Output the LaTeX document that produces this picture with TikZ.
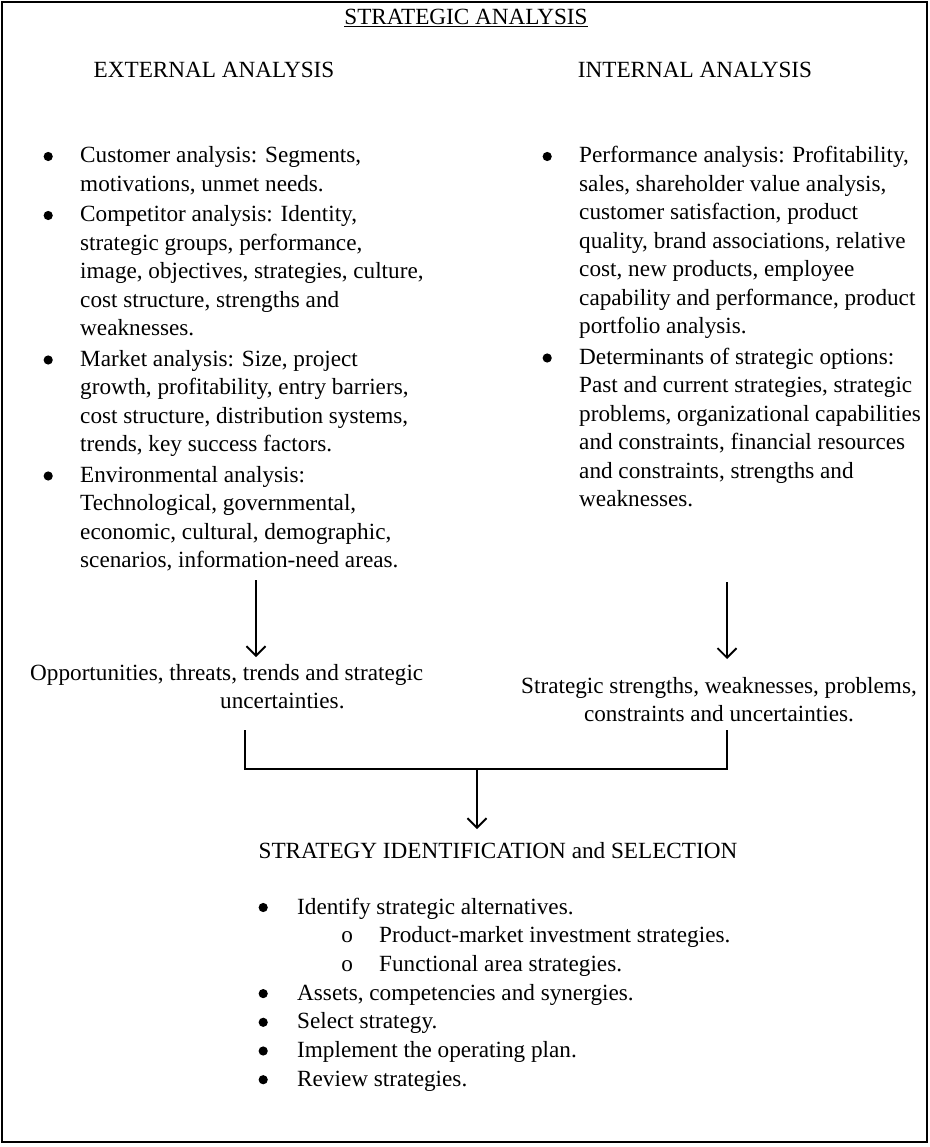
\documentclass[tikz,border=0pt]{standalone}
\usepackage{fontspec}
\setmainfont{Liberation Serif}
\usetikzlibrary{arrows.meta}

% list helpers: #1 text indent, #2 marker centre, #3 marker, #4 text
\newcommand\dotmark{\tikz[baseline=0pt]\fill (0pt,6.5pt) circle[radius=4.6pt];}
\newcommand\ringmark{o}
\newcommand\listitem[4]{%
  \par\leftskip=#1\relax\noindent\hspace*{-#1}%
  \makebox[#1][l]{\hspace*{\dimexpr#2-12pt\relax}\makebox[24pt]{#3}}#4}
\newcommand\itemlist[3]{% #1 width, #2 gap between items, #3 items
  \parbox[t]{#1}{\parskip=#2\relax\parindent=0pt #3\par}}

\begin{document}
\begin{tikzpicture}[x=1pt,y=-1pt,
  txt/.style={inner sep=0pt, font=\fontsize{23.2}{28.5}\selectfont},
  listbox/.style={txt, anchor=base west},
  arr/.style={line width=1.9pt, -{Straight Barb[length=9.5pt,width=19pt,line width=1.9pt]}},
  bracket/.style={line width=2.4pt},
  frame/.style={line width=2pt}]
\useasboundingbox (0,0) rectangle (929,1147);
\draw[frame] (2,2) rectangle (927,1142);

% headings
\node[txt, anchor=base] (title) at (466,25) {\underline{STRATEGIC ANALYSIS}};
\node[txt, anchor=base] (exthead) at (214,78) {EXTERNAL ANALYSIS};
\node[txt, anchor=base] (inthead) at (695,78) {INTERNAL ANALYSIS};

% external analysis list
\node[listbox] (extlist) at (36,163) {\itemlist{420pt}{2pt}{%
  \listitem{44pt}{12pt}{\dotmark}{Customer analysis: Segments,\\ motivations, unmet needs.}
  \listitem{44pt}{12pt}{\dotmark}{Competitor analysis: Identity,\\ strategic groups, performance,\\ image, objectives, strategies, culture,\\ cost structure, strengths and\\ weaknesses.}
  \listitem{44pt}{12pt}{\dotmark}{Market analysis: Size, project\\ growth, profitability, entry barriers,\\ cost structure, distribution systems,\\ trends, key success factors.}
  \listitem{44pt}{12pt}{\dotmark}{Environmental analysis:\\ Technological, governmental,\\ economic, cultural, demographic,\\ scenarios, information-need areas.}}};

% internal analysis list
\node[listbox] (intlist) at (535,163) {\itemlist{400pt}{2pt}{%
  \listitem{44pt}{12pt}{\dotmark}{Performance analysis: Profitability,\\ sales, shareholder value analysis,\\ customer satisfaction, product\\ quality, brand associations, relative\\ cost, new products, employee\\ capability and performance, product\\ portfolio analysis.}
  \listitem{44pt}{12pt}{\dotmark}{Determinants of strategic options:\\ Past and current strategies, strategic\\ problems, organizational capabilities\\ and constraints, financial resources\\ and constraints, strengths and\\ weaknesses.}}};

% summaries of each analysis
\node[txt, anchor=base west] (opp) at (30,680) {%
  \begin{tabular}[t]{@{}l@{}}Opportunities, threats, trends and strategic\\
  \hspace*{190pt}uncertainties.\end{tabular}};
\node[txt, anchor=base] (str) at (719,693) {%
  \begin{tabular}[t]{@{}c@{}}Strategic strengths, weaknesses, problems,\\
  constraints and uncertainties.\end{tabular}};

% strategy identification
\node[txt, anchor=base] (sel) at (498,858) {STRATEGY IDENTIFICATION and SELECTION};
\node[listbox, font=\fontsize{23.2}{28.7}\selectfont] (sellist) at (251,914) {\itemlist{520pt}{0pt}{%
  \listitem{46pt}{12pt}{\dotmark}{Identify strategic alternatives.}
  \listitem{128pt}{96pt}{\ringmark}{Product-market investment strategies.}
  \listitem{128pt}{96pt}{\ringmark}{Functional area strategies.}
  \listitem{46pt}{12pt}{\dotmark}{Assets, competencies and synergies.}
  \listitem{46pt}{12pt}{\dotmark}{Select strategy.}
  \listitem{46pt}{12pt}{\dotmark}{Implement the operating plan.}
  \listitem{46pt}{12pt}{\dotmark}{Review strategies.}}};

% connector end points
\coordinate (extout) at (256,580);
\coordinate (oppin)  at (256,657);
\coordinate (intout) at (727,582);
\coordinate (strin)  at (727,659);
\coordinate (oppout) at (245,730);
\coordinate (strout) at (727,730);
\coordinate (joinl)  at (245,769);
\coordinate (joinr)  at (727,769);
\coordinate (joinm)  at (477,769);
\coordinate (selin)  at (477,829);

\draw[arr] (extout) -- (oppin);
\draw[arr] (intout) -- (strin);
\draw[bracket] (oppout) -- (joinl) -- (joinr) -- (strout);
\draw[arr] (joinm) -- (selin);
\end{tikzpicture}
\end{document}
